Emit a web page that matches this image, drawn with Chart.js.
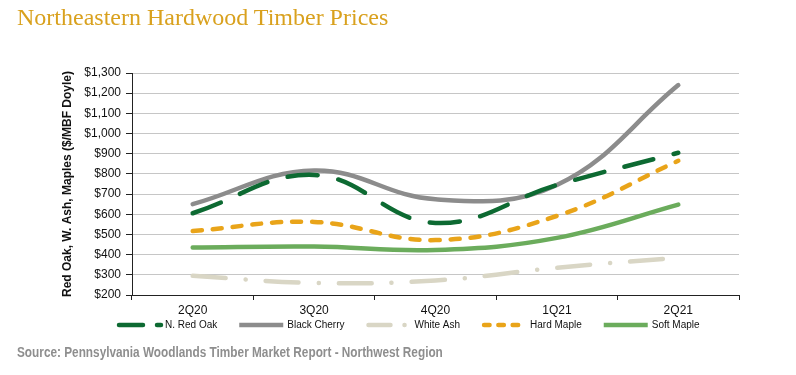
<!DOCTYPE html>
<html><head><meta charset="utf-8">
<script src="https://cdn.jsdelivr.net/npm/chart.js@4.4.1/dist/chart.umd.min.js"></script>
<style>
html,body{margin:0;padding:0;background:#fff;}
#wrap{position:relative;width:796px;height:375px;}
#title{position:absolute;left:17px;top:4px;font-family:'Liberation Serif','Times New Roman',serif;font-size:24px;color:#D9A11E;white-space:nowrap;}
#source{position:absolute;left:17px;top:344px;font-family:'Liberation Sans',Arial,sans-serif;font-weight:bold;font-size:14px;color:#8e8e8e;white-space:nowrap;transform:scaleX(0.843);transform-origin:0 0;}
canvas{position:absolute;left:0;top:0;}
</style></head>
<body><div id="wrap">
<canvas id="c" width="796" height="375"></canvas>
<div id="title">Northeastern Hardwood Timber Prices</div>
<div id="source">Source: Pennsylvania Woodlands Timber Market Report - Northwest Region</div>
</div>
<script>
const categories = ['2Q20','3Q20','4Q20','1Q21','2Q21'];
const seriesNames = ['N. Red Oak','Black Cherry','White Ash','Hard Maple','Soft Maple'];
const redOak = [605, 795, 557, 745, 905];
const blackCherry = [650, 817, 674, 745, 1240];
const whiteAsh = [295, 260, 272, 335, 385];
const hardMaple = [517, 562, 472, 592, 865];
const softMaple = [435, 440, 423, 483, 648];
const yTicks = [200,300,400,500,600,700,800,900,1000,1100,1200,1300];

const sans = "'Liberation Sans',Arial,sans-serif";
const W = 4.5;
const mk = (label, data, color, dash) => ({
  label, data, borderColor: color, backgroundColor: color, borderWidth: W,
  borderDash: dash, borderCapStyle: 'round', pointRadius: 0, pointHoverRadius: 0,
  tension: 0.4, fill: false
});
const datasets = [
  mk(seriesNames[0], redOak, '#0d6a32', [30, 21]),
  mk(seriesNames[1], blackCherry, '#8c8c8c', []),
  mk(seriesNames[2], whiteAsh, '#d9d6c5', [33, 20, 0.1, 20]),
  mk(seriesNames[3], hardMaple, '#e9a419', [9, 11]),
  mk(seriesNames[4], softMaple, '#6bac5c', [])
];

const legendDash = [[24, 14], [], [22, 14, 0.1, 20], [5.5, 8.8], []];

const legendPlugin = {
  id: 'customLegend',
  afterDraw(chart) {
    const ctx = chart.ctx;
    ctx.save();
    ctx.font = '10px ' + sans;
    ctx.textBaseline = 'middle';
    let x = 117; const y = 325;
    chart.data.datasets.forEach((ds, i) => {
      ctx.strokeStyle = ds.borderColor;
      ctx.lineWidth = W;
      ctx.lineCap = ds.borderDash.length ? 'round' : 'butt';
      ctx.setLineDash(legendDash[i]);
      ctx.beginPath(); ctx.moveTo(x + (ds.borderDash.length ? 2 : 0), y); ctx.lineTo(x + 44, y); ctx.stroke();
      ctx.setLineDash([]);
      ctx.fillStyle = '#111';
      ctx.fillText(ds.label, x + 48, y);
      x += 48 + ctx.measureText(ds.label).width + 22;
    });
    ctx.restore();
  }
};

new Chart(document.getElementById('c'), {
  type: 'line',
  data: { labels: categories, datasets },
  plugins: [legendPlugin],
  options: {
    responsive: false, animation: false,
    layout: { padding: { top: 73, right: 57, left: 0, bottom: 0 } },
    plugins: { legend: { display: false }, tooltip: { enabled: false } },
    scales: {
      x: {
        offset: true,
        grid: { display: true, drawOnChartArea: false, offset: true, tickLength: 5, tickColor: '#222' },
        border: { display: true, color: '#222', width: 1 },
        ticks: { color: '#111', font: { family: sans, size: 12 }, padding: 3 },
        afterFit: s => { s.height = 80; }
      },
      y: {
        min: 200, max: 1300,
        afterBuildTicks: s => { s.ticks = yTicks.map(v => ({ value: v })); },
        grid: { color: '#c6c6c6', lineWidth: 1, tickLength: 6, tickColor: '#222' },
        border: { display: true, color: '#222', width: 1 },
        ticks: { color: '#111', font: { family: sans, size: 12 }, padding: 5,
          callback: v => '$' + v.toLocaleString('en-US') },
        title: { display: true, text: 'Red Oak, W. Ash, Maples ($/MBF Doyle)', color: '#111',
          font: { family: sans, size: 12, weight: 'bold' }, padding: { top: 60, bottom: 0 } },
        afterFit: s => { s.width = 132; }
      }
    }
  }
});
</script>
</body></html>
